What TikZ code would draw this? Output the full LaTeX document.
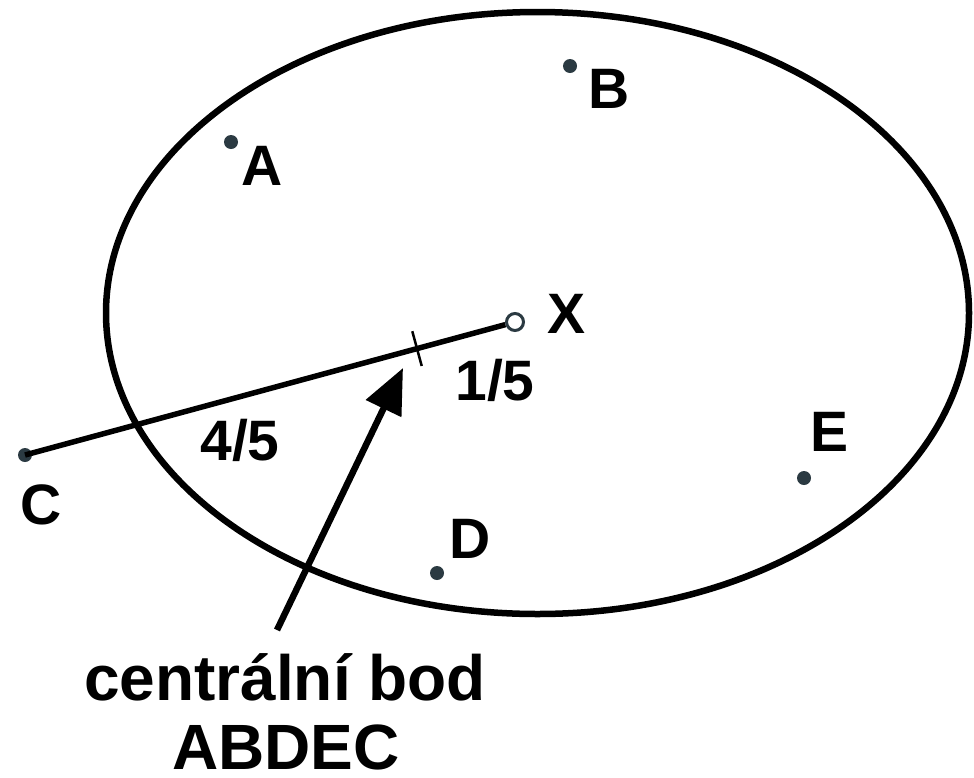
\documentclass[tikz,border=0pt]{standalone}
\usepackage{fontspec}
\setmainfont{Liberation Sans}
\usetikzlibrary{arrows.meta,calc}
\definecolor{dotc}{HTML}{2B3A42}
\begin{document}
\begin{tikzpicture}[x=1pt,y=-1pt,
  pt/.style={circle,fill=dotc,inner sep=0pt,minimum size=14pt},
  lbl/.style={font=\fontsize{57}{62}\selectfont\bfseries,anchor=base,inner sep=0pt},
  big/.style={font=\fontsize{64}{70}\selectfont\bfseries,anchor=base,inner sep=0pt}]
\useasboundingbox (0,0) rectangle (974,777);
% ellipse
\draw[line width=6.5pt] (537.5,313) ellipse [x radius=431.5, y radius=301];
% points
\node[pt] (A) at (231,142) {};
\node[pt] (B) at (570,66) {};
\node[pt] (C) at (25,455) {};
\node[pt] (D) at (437,573) {};
\node[pt] (E) at (804,478) {};
\node[circle,draw=dotc,fill=white,line width=3pt,inner sep=0pt,minimum size=17pt] (X) at (515,322) {};
% line C-X
\draw[line width=5.5pt] (C.center) -- (X);
% tick at 4/5
\coordinate (M) at ($(C)!0.8!(X)$);
\draw[line width=2.5pt] ($(M)!18pt!90:(X)$) -- ($(M)!18pt!-90:(X)$);
% labels
\node[lbl] (lA) at (262,185) {A};
\node[lbl] (lB) at (609,108) {B};
\node[lbl] (lX) at (567,333) {X};
\node[lbl] (lC) at (41,524) {C};
\node[lbl] (lD) at (470,558) {D};
\node[lbl] (lE) at (829,451) {E};
\node[lbl] (f1) at (495,400) {1/5};
\node[lbl] (f4) at (240,460) {4/5};
% caption
\node[big] (t1) at (285,700) {centrální bod};
\node[big] (t2) at (286,769) {ABDEC};
\coordinate (tail) at (277,630);
\coordinate (tip) at (403,368);
\draw[line width=6.5pt,-{Triangle[length=45pt,width=38pt]}] (tail) -- (tip);
\end{tikzpicture}
\end{document}
